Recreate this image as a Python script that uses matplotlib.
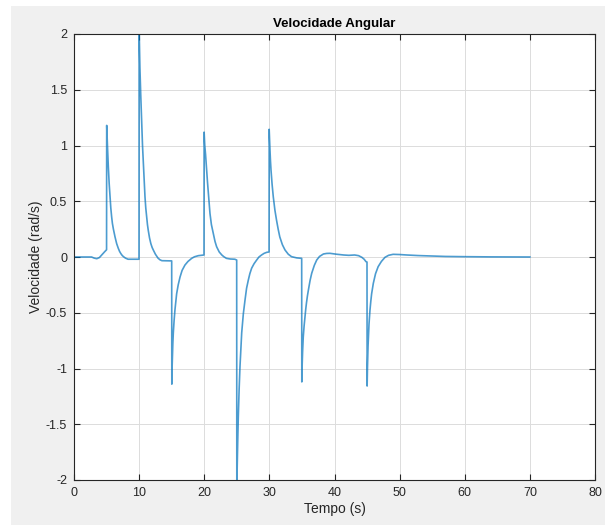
import matplotlib
matplotlib.use("Agg")
import matplotlib.pyplot as plt
from matplotlib.patches import Rectangle

# angular velocity samples (time in s, velocity in rad/s)
tempo = [0, 2.7, 3.1, 3.5, 3.9, 4.25, 4.5, 4.75, 5.0,
         5.02, 5.08, 5.15, 5.27, 5.4, 5.53, 5.65, 5.78, 5.9, 6.05, 6.3, 6.55, 6.8, 7.0, 7.2, 7.4, 7.6, 7.9, 8.3, 9.98,
         10.0, 10.06, 10.12, 10.25, 10.4, 10.52, 10.65, 10.78, 10.9, 11.02, 11.15, 11.28, 11.4, 11.6, 11.8, 12.0,
         12.2, 12.5, 12.9, 13.2, 13.5, 15.0,
         15.02, 15.06, 15.12, 15.18, 15.25, 15.37, 15.5, 15.63, 15.76, 16.0, 16.28, 16.6, 17.04, 17.5, 18.07, 18.5,
         19.1, 19.96,
         19.98, 20.08, 20.2, 20.28, 20.37, 20.5, 20.63, 20.75, 20.88, 21.1, 21.4, 21.65, 21.9, 22.3, 22.7, 23.0,
         23.4, 24.0, 24.7, 24.98,
         25.0, 25.05, 25.1, 25.16, 25.23, 25.36, 25.49, 25.62, 25.75, 26.0, 26.26, 26.5, 26.77, 27.0, 27.28, 27.65,
         28.05, 28.4, 28.8, 29.2, 29.6, 29.95,
         29.97, 30.03, 30.1, 30.17, 30.25, 30.42, 30.6, 30.85, 31.1, 31.35, 31.6, 32.0, 32.4, 32.9, 33.4, 34.2, 34.96,
         34.98, 35.03, 35.1, 35.2, 35.33, 35.47, 35.58, 35.7, 35.84, 35.98, 36.25, 36.5, 36.9, 37.27, 37.7, 38.3,
         38.8, 39.3, 40.3, 41.4, 42.2, 43.1, 43.7, 44.2, 44.55, 44.84, 44.99,
         45.01, 45.06, 45.15, 45.22, 45.3, 45.45, 45.57, 45.7, 45.83, 45.96, 46.3, 46.7, 47.2, 47.75, 48.3, 49.0,
         50.0, 51.1, 52.8, 54.7, 57.0, 59.8, 64.0, 70.0]

velocidade = [0, 0, -0.01, -0.015, -0.005, 0.018, 0.035, 0.05, 0.065,
              1.18, 1.08, 0.98, 0.81, 0.66, 0.54, 0.44, 0.36, 0.3, 0.25, 0.18, 0.12, 0.078, 0.05, 0.03, 0.014, 0.003,
              -0.01, -0.02, -0.02,
              2.05, 1.85, 1.7, 1.45, 1.2, 1.0, 0.84, 0.68, 0.54, 0.44, 0.36, 0.29, 0.24, 0.17, 0.12, 0.085,
              0.06, 0.025, -0.01, -0.025, -0.033, -0.035,
              -1.14, -1.0, -0.88, -0.77, -0.68, -0.57, -0.475, -0.4, -0.33, -0.25, -0.18, -0.12, -0.072, -0.04, -0.012,
              0.002, 0.012, 0.018,
              1.12, 1.0, 0.92, 0.85, 0.78, 0.67, 0.57, 0.48, 0.39, 0.29, 0.21, 0.14, 0.092, 0.045, 0.018, 0.003,
              -0.012, -0.018, -0.02, -0.027,
              -2.05, -1.9, -1.75, -1.6, -1.43, -1.18, -0.98, -0.82, -0.68, -0.51, -0.386, -0.28, -0.206, -0.15, -0.10,
              -0.06, -0.027, 0.0, 0.018, 0.033, 0.042, 0.045,
              1.145, 1.05, 0.95, 0.86, 0.78, 0.65, 0.54, 0.42, 0.33, 0.25, 0.18, 0.11, 0.063, 0.025, 0.003, -0.008,
              -0.012,
              -1.12, -0.98, -0.85, -0.72, -0.62, -0.535, -0.47, -0.41, -0.35, -0.30, -0.21, -0.146, -0.075, -0.027,
              0.005, 0.027, 0.032, 0.033, 0.025, 0.018, 0.015, 0.018, 0.012, -0.003, -0.02, -0.042, -0.045,
              -1.157, -1.0, -0.8, -0.7, -0.6, -0.475, -0.4, -0.33, -0.28, -0.236, -0.15, -0.087, -0.04, -0.003, 0.015,
              0.024, 0.022, 0.018, 0.013, 0.009, 0.005, 0.003, 0.001, 0.0]

xticks = [0, 10, 20, 30, 40, 50, 60, 70, 80]
yticks = [-2, -1.5, -1, -0.5, 0, 0.5, 1, 1.5, 2]
ytick_labels = ["-2", "-1.5", "-1", "-0.5", "0", "0.5", "1", "1.5", "2"]

plt.rcParams['font.family'] = ['Liberation Sans', 'DejaVu Sans']
txt = '#262626'

fig = plt.figure(figsize=(6.05, 5.25), dpi=100, facecolor='white')
# grey window background
fig.patches.append(Rectangle((11 / 605, 0), 1, (525 - 6) / 525, transform=fig.transFigure,
                             facecolor='#f0f0f0', edgecolor='none', zorder=-10))

ax = fig.add_axes([74 / 605, 45 / 525, 521 / 605, 446 / 525])
ax.set_facecolor('white')
ax.plot(tempo, velocidade, color='#0072BD', lw=1.2, alpha=0.7)

ax.set_xlim(0, 80)
ax.set_ylim(-2, 2)
ax.set_xticks(xticks)
ax.set_yticks(yticks)
ax.set_yticklabels(ytick_labels)
ax.grid(True, color='#dcdcdc', lw=0.7)
ax.set_axisbelow(True)
ax.tick_params(direction='in', length=4, width=0.8, top=True, right=True,
               colors=txt, labelsize=9, pad=5)
for s in ax.spines.values():
    s.set_color(txt)
    s.set_linewidth(0.8)

ax.set_title("Velocidade Angular", fontsize=9.5, fontweight='bold', color='black', pad=5)
ax.set_xlabel("Tempo (s)", fontsize=10, color=txt, labelpad=2)
ax.set_ylabel("Velocidade (rad/s)", fontsize=10, color=txt, labelpad=2)

fig.savefig("out.png", dpi=100, facecolor=fig.get_facecolor())
